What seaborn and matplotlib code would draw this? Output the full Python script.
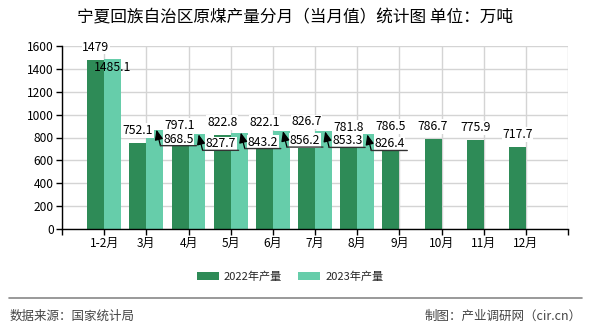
import matplotlib
matplotlib.use("Agg")
import matplotlib.pyplot as plt
from matplotlib.patches import Patch
from matplotlib.lines import Line2D
from matplotlib.transforms import offset_copy
import numpy as np
import pandas as pd
import seaborn as sns

# ---- data ----
months = ['1-2月', '3月', '4月', '5月', '6月', '7月', '8月', '9月', '10月', '11月', '12月']
prod_2022 = [1479, 752.1, 797.1, 822.8, 822.1, 826.7, 781.8, 786.5, 786.7, 775.9, 717.7]
prod_2023 = [1485.1, 868.5, 827.7, 843.2, 856.2, 853.3, 826.4]
series_names = ['2022年产量', '2023年产量']
y_ticks = [0, 200, 400, 600, 800, 1000, 1200, 1400, 1600]
title = '宁夏回族自治区原煤产量分月（当月值）统计图 单位：万吨'
source_text = '数据来源：国家统计局'
credit_text = '制图：产业调研网（cir.cn）'

colors = ['#2E8B57', '#66CDAA']

rows = []
for m, v in zip(months, prod_2022):
    rows.append({'month': m, 'value': v, 'series': series_names[0]})
for m, v in zip(months, prod_2023):
    rows.append({'month': m, 'value': v, 'series': series_names[1]})
df = pd.DataFrame(rows)

sns.set_style('white')
plt.rcParams['font.family'] = ['Noto Sans CJK SC', 'DejaVu Sans']
plt.rcParams['axes.unicode_minus'] = False

fig = plt.figure(figsize=(5.9, 3.3), dpi=100)
ax = fig.add_axes([62 / 590, 1 - 229 / 330, (568 - 62) / 590, (229 - 46) / 330])

sns.barplot(data=df, x='month', y='value', hue='series', order=months,
            hue_order=series_names, palette=colors, width=0.8, saturation=1,
            legend=False, ax=ax, errorbar=None)
for p in ax.patches:
    p.set_edgecolor('none')

ax.set_axisbelow(True)
ax.set_xlim(-1, len(months))
ax.set_ylim(0, 1600)
ax.set_yticks(y_ticks)
ax.set_yticklabels([str(t) for t in y_ticks], fontsize=8.6)
ax.set_xticks(range(-1, len(months) + 1))
ax.set_xticklabels([''] + months + [''], fontsize=8.6)
ax.set_xlabel('')
ax.set_ylabel('')
ax.grid(True, color='#d4d4d4', lw=1)
for s in ['top', 'right']:
    ax.spines[s].set_visible(False)
for s in ['left', 'bottom']:
    ax.spines[s].set_color('black')
    ax.spines[s].set_linewidth(1)
ax.tick_params(axis='both', which='both', length=4, width=1, color='black',
               direction='out', left=True, bottom=True, pad=2, labelcolor='black')

LBL = 8.8
box = dict(boxstyle='square,pad=0.05', fc='white', ec='none')

def fmt(v):
    return f'{v:g}'

# 2022 labels above dark bars
for i, v in enumerate(prod_2022):
    ax.annotate(fmt(v), xy=(i - 0.2, v), xytext=(0, 6), textcoords='offset pixels',
                ha='center', va='bottom', fontsize=LBL, color='black',
                bbox=box, zorder=4)

# 2023 labels
for i, v in enumerate(prod_2023):
    if i == 0:
        ax.annotate(fmt(v), xy=(i + 0.2, v), xytext=(0, -2), textcoords='offset pixels',
                    ha='center', va='top', fontsize=LBL, color='black', zorder=4)
        continue
    tip_x = i + 0.24
    ax.annotate(fmt(v), xy=(tip_x, v), xytext=(7, -16), textcoords='offset pixels',
                ha='left', va='bottom', fontsize=LBL, color='black',
                bbox=box, zorder=4)
    ax.annotate('', xy=(tip_x, v), xytext=(4, -16), textcoords='offset pixels',
                arrowprops=dict(arrowstyle='-|>,head_length=0.6,head_width=0.25',
                                color='black', lw=0.9, shrinkA=0, shrinkB=0), zorder=5)
    ax.annotate('', xy=(tip_x, v),
                xycoords=offset_copy(ax.transData, fig=fig, x=40, y=-16, units='dots'),
                xytext=(tip_x, v),
                textcoords=offset_copy(ax.transData, fig=fig, x=4, y=-16, units='dots'),
                arrowprops=dict(arrowstyle='-', color='#333333', lw=1.0, shrinkA=0, shrinkB=0),
                zorder=5)

# title
fig.text(0.5, 1 - 18 / 330, title, ha='center', va='center', fontsize=12, color='black')

# legend
handles = [Patch(facecolor=c, edgecolor='none') for c in colors]
fig.legend(handles, series_names, loc='center', bbox_to_anchor=(290 / 590, 1 - 277 / 330),
           ncol=2, frameon=False, fontsize=8, handlelength=2.0, handleheight=0.7,
           handletextpad=0.45, columnspacing=1.45)

# footer line and texts
fig.add_artist(Line2D([9 / 590, 582 / 590], [1 - 298 / 330, 1 - 298 / 330],
                      color='#888888', lw=1.2, transform=fig.transFigure))
fig.text(10 / 590, 1 - 316 / 330, source_text, ha='left', va='center', fontsize=9, color='#444444')
fig.text(582 / 590, 1 - 316 / 330, credit_text, ha='right', va='center', fontsize=9, color='#444444')

fig.savefig('out.png', dpi=100)
